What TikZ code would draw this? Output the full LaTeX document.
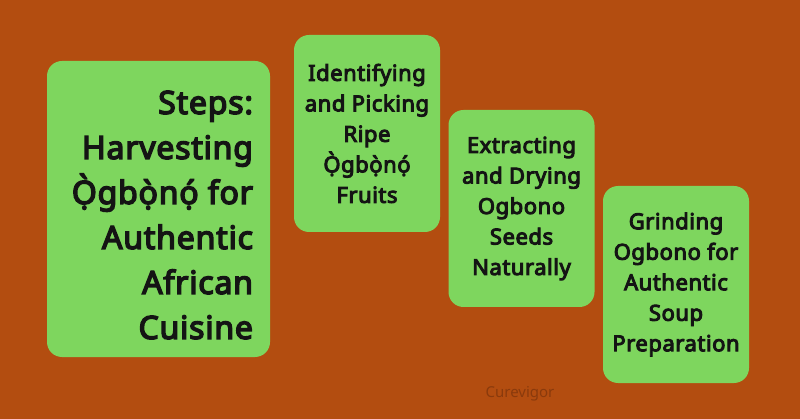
\documentclass[tikz,border=0pt]{standalone}
\usepackage{fontspec}
\usepackage{xcolor}
\setmainfont{Noto Sans}[AutoFakeBold=4.5, BoldFeatures={LetterSpace=2.5}]
\definecolor{rust}{HTML}{B34D10}
\definecolor{leaf}{HTML}{7ED65E}
\definecolor{credittext}{HTML}{8A3A0C}

\begin{document}
\begin{tikzpicture}[
  x=1pt, y=-1pt,
  every node/.style={inner sep=0pt, outer sep=0pt},
  card/.style={fill=leaf, rounded corners=15pt, minimum width=146pt, minimum height=197pt,
    font=\bfseries\fontsize{22}{30.5}\selectfont, align=center, text=black!92},
  titlecard/.style={card, minimum width=223pt, minimum height=296pt,
    font=\bfseries\fontsize{32}{45}\selectfont, align=right}
]
  \fill[rust] (0,0) rectangle (800,419);
  \useasboundingbox (0,0) rectangle (800,419);
  \node[titlecard] (steps) at (158.5,209) {};
  \node[anchor=east, align=right, font=\bfseries\fontsize{32}{45}\selectfont, text=black!92]
    (stepstext) at (253,215) {Steps:\\Harvesting\\Ọ̀gbọ̀nọ́ for\\Authentic\\African\\Cuisine};
  \node[card] (pick) at (367,133.5) {Identifying\\and Picking\\Ripe\\Ọ̀gbọ̀nọ́\\Fruits};
  \node[card] (dry) at (521.5,208.5) {Extracting\\and Drying\\Ogbono\\Seeds\\Naturally};
  \node[card] (grind) at (676,284.5) {Grinding\\Ogbono for\\Authentic\\Soup\\Preparation};
  \node[font=\fontsize{15}{18}\selectfont, text=credittext] (credit) at (520,394) {Curevigor};
\end{tikzpicture}
\end{document}
